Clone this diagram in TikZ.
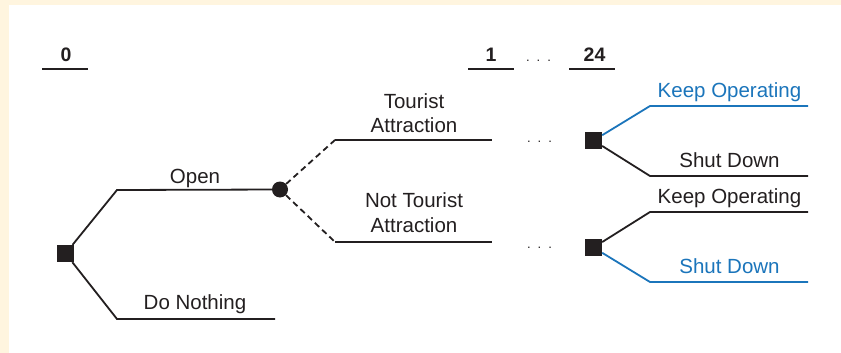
\documentclass[tikz,border=0pt]{standalone}
\usepackage{fontspec}
\setmainfont{Liberation Sans}
\begin{document}
\begin{tikzpicture}[x=1pt,y=-1pt]
\definecolor{cream}{HTML}{FFF5DF}
\definecolor{ink}{HTML}{231F20}
\definecolor{blu}{HTML}{1B75BB}
\tikzset{
 bk/.style={draw=ink, line width=1.8pt},
 bl/.style={draw=blu, line width=1.8pt},
 dashln/.style={draw=ink, line width=1.8pt, dash pattern=on 6pt off 4pt},
 dec/.style={fill=ink, minimum size=17pt, inner sep=0pt, draw=none},
 chance/.style={circle, fill=ink, minimum size=16pt, inner sep=0pt},
 lbl/.style={font=\fontsize{20.5}{24}\selectfont, text=ink, anchor=base, inner sep=0pt},
 blbl/.style={lbl, text=blu},
 hdr/.style={font=\bfseries\fontsize{19.5}{21}\selectfont, text=ink, anchor=base, inner sep=0pt},
 dots/.style={font=\fontsize{13}{14}\selectfont, text=ink, anchor=base, inner sep=0pt},
 hline/.style={draw=ink, line width=2.3pt},
}
\newcommand{\tdots}{.\hspace{7pt}.\hspace{7pt}.}
\fill[cream] (0,0) rectangle (841,353);
\fill[white] (8.5,5) rectangle (841,353);
\useasboundingbox (0,0) rectangle (841,353);

% header
\node[hdr] (h0) at (66,62) {0};
\node[hdr] (h1) at (491,62) {1};
\node[hdr] (h24) at (594.5,62) {24};
\node[dots] (hd) at (538.5,62) {\tdots};
\coordinate (h0a) at (42,69); \coordinate (h0b) at (88,69);
\coordinate (h1a) at (468,69); \coordinate (h1b) at (514,69);
\coordinate (h2a) at (569,69); \coordinate (h2b) at (615,69);
\draw[hline] (h0a) -- (h0b);
\draw[hline] (h1a) -- (h1b);
\draw[hline] (h2a) -- (h2b);

% nodes
\node[dec] (r) at (65.5,253.5) {};
\node[chance] (c) at (280,189.5) {};
\node[dec] (d1) at (593.5,140.5) {};
\node[dec] (d2) at (593.5,247.5) {};

% coordinates
\coordinate (o1) at (117,190);
\coordinate (n1) at (117,319); \coordinate (n2) at (275,319);
\coordinate (t1) at (335,140); \coordinate (t2) at (492,140);
\coordinate (u1) at (335,242); \coordinate (u2) at (492,242);
\coordinate (k1) at (650,106); \coordinate (k2) at (808,106);
\coordinate (s1) at (650,176); \coordinate (s2) at (808,176);
\coordinate (k3) at (650,212); \coordinate (k4) at (808,212);
\coordinate (s3) at (650,282); \coordinate (s4) at (808,282);

% connectors
\draw[bk] (r) -- (o1) -- (c);
\draw[bk] (r) -- (n1) -- (n2);
\draw[dashln] (c) -- (t1);
\draw[bk] (t1) -- (t2);
\draw[dashln] (c) -- (u1);
\draw[bk] (u1) -- (u2);
\draw[bl] (d1) -- (k1) -- (k2);
\draw[bk] (d1) -- (s1) -- (s2);
\draw[bk] (d2) -- (k3) -- (k4);
\draw[bl] (d2) -- (s3) -- (s4);

% labels
\node[lbl] (lo) at (195,183) {Open};
\node[lbl] (ldn) at (195,309) {Do Nothing};
\node[lbl] (lt1) at (414,108) {Tourist};
\node[lbl] (lt2) at (414,132) {Attraction};
\node[lbl] (ln1) at (414,207) {Not Tourist};
\node[lbl] (ln2) at (414,232) {Attraction};
\node[dots] (dt1) at (539.5,142) {\tdots};
\node[dots] (dt2) at (539.5,248) {\tdots};
\node[blbl] (lk1) at (729.5,97) {Keep Operating};
\node[lbl] (ls1) at (729.5,167) {Shut Down};
\node[lbl] (lk2) at (729.5,203) {Keep Operating};
\node[blbl] (ls2) at (729.5,273) {Shut Down};
\end{tikzpicture}
\end{document}
